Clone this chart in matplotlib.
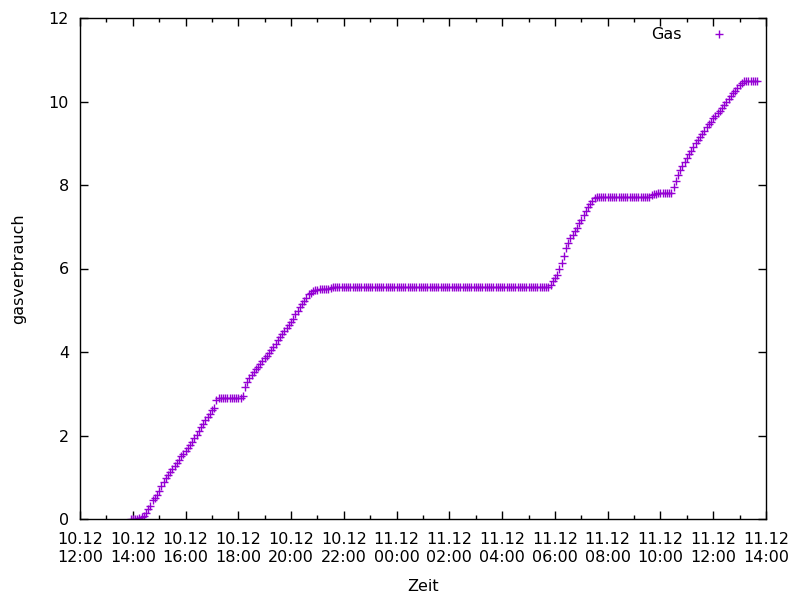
import numpy as np
import pandas as pd
import matplotlib
matplotlib.use('Agg')
import matplotlib.pyplot as plt
import matplotlib.dates as mdates

## meter readings, one every 5 minutes starting 10.12 13:55
start = '2023-12-10 13:55'
step = '5min'
gas = [
    0, 0, 0, 0, 0.02, 0.05, 0.08, 0.15, 0.25, 0.32, 0.45, 0.5,                  # 13:55
    0.58, 0.68, 0.78, 0.88, 0.98, 1.05, 1.12, 1.2, 1.28, 1.35, 1.42, 1.5,        # 14:55
    1.55, 1.62, 1.7, 1.78, 1.85, 1.95, 2.02, 2.1, 2.2, 2.28, 2.38, 2.45,         # 15:55
    2.52, 2.6, 2.65, 2.85, 2.9, 2.9, 2.9, 2.9, 2.9, 2.9, 2.9, 2.9,               # 16:55
    2.9, 2.9, 2.9, 2.95, 3.15, 3.28, 3.38, 3.45, 3.52, 3.6, 3.65, 3.72,          # 17:55
    3.78, 3.85, 3.9, 3.98, 4.05, 4.12, 4.2, 4.28, 4.35, 4.42, 4.5, 4.58,         # 18:55
    4.65, 4.72, 4.8, 4.9, 4.98, 5.08, 5.15, 5.22, 5.3, 5.38, 5.42, 5.47,         # 19:55
    5.48, 5.48, 5.5, 5.5, 5.5, 5.52, 5.52, 5.53, 5.55, 5.55, 5.55, 5.55,         # 20:55
    5.55, 5.55, 5.55, 5.55, 5.55, 5.55, 5.55, 5.55, 5.55, 5.55, 5.55, 5.55,      # 21:55
    5.55, 5.55, 5.55, 5.55, 5.55, 5.55, 5.55, 5.55, 5.55, 5.55, 5.55, 5.55,      # 22:55
    5.55, 5.55, 5.55, 5.55, 5.55, 5.55, 5.55, 5.55, 5.55, 5.55, 5.55, 5.55,      # 23:55
    5.55, 5.55, 5.55, 5.55, 5.55, 5.55, 5.55, 5.55, 5.55, 5.55, 5.55, 5.55,      # 00:55
    5.55, 5.55, 5.55, 5.55, 5.55, 5.55, 5.55, 5.55, 5.55, 5.55, 5.55, 5.55,      # 01:55
    5.55, 5.55, 5.55, 5.55, 5.55, 5.55, 5.55, 5.55, 5.55, 5.55, 5.55, 5.55,      # 02:55
    5.55, 5.55, 5.55, 5.55, 5.55, 5.55, 5.55, 5.55, 5.55, 5.55, 5.55, 5.55,      # 03:55
    5.55, 5.55, 5.55, 5.55, 5.55, 5.55, 5.55, 5.55, 5.55, 5.55, 5.55, 5.6,       # 04:55
    5.7, 5.78, 5.85, 6.0, 6.12, 6.3, 6.5, 6.6, 6.72, 6.8, 6.9, 6.98,             # 05:55
    7.08, 7.15, 7.28, 7.38, 7.48, 7.55, 7.62, 7.7, 7.72, 7.72, 7.72, 7.72,       # 06:55
    7.72, 7.72, 7.72, 7.72, 7.72, 7.72, 7.72, 7.72, 7.72, 7.72, 7.72, 7.72,      # 07:55
    7.72, 7.72, 7.72, 7.72, 7.72, 7.72, 7.72, 7.72, 7.72, 7.75, 7.78, 7.78,      # 08:55
    7.8, 7.8, 7.8, 7.8, 7.8, 7.8, 7.82, 7.95, 8.1, 8.25, 8.35, 8.45,             # 09:55
    8.55, 8.65, 8.75, 8.82, 8.9, 9.0, 9.08, 9.15, 9.22, 9.3, 9.38, 9.45,         # 10:55
    9.52, 9.6, 9.65, 9.72, 9.78, 9.85, 9.92, 9.98, 10.05, 10.12, 10.2, 10.25,    # 11:55
    10.32, 10.4, 10.45, 10.5, 10.5, 10.5, 10.5, 10.5, 10.5, 10.5,                # 12:55
]
zeit = pd.date_range(start, periods=len(gas), freq=step)

x_min = pd.Timestamp('2023-12-10 12:00')
x_max = pd.Timestamp('2023-12-11 14:00')

plt.rcParams['font.family'] = 'DejaVu Sans'
plt.rcParams['font.size'] = 11.5

fig = plt.figure(figsize=(8, 6), dpi=100)
ax = fig.add_axes([0.1, 0.135, 0.8575, 0.835])

ax.plot(zeit, gas, linestyle='none', marker='+', markersize=6,
        markeredgewidth=1, color='#9400d3', label='Gas')

ax.set_xlim(x_min, x_max)
ax.set_ylim(0, 12)
ax.set_yticks(np.arange(0, 13, 2))
ax.xaxis.set_major_locator(mdates.HourLocator(byhour=range(0, 24, 2)))
ax.xaxis.set_minor_locator(mdates.HourLocator())
ax.xaxis.set_major_formatter(mdates.DateFormatter('%d.%m\n%H:%M'))

ax.tick_params(which='both', direction='in', top=True, right=True, colors='black')
ax.tick_params(which='major', length=6, width=1)
ax.tick_params(which='minor', length=3, width=1)
ax.tick_params(axis='x', pad=9)
ax.tick_params(axis='y', pad=8)
for lab in ax.get_xticklabels():
    lab.set_linespacing(1.3)

for s in ax.spines.values():
    s.set_linewidth(1)

ax.set_xlabel('Zeit', labelpad=10)
ax.set_ylabel('gasverbrauch', labelpad=16)

ax.legend(loc='upper right', frameon=False, markerfirst=False,
          bbox_to_anchor=(0.981, 1.01), handlelength=2.5, handletextpad=1.06)

fig.savefig('out.png', dpi=100)
